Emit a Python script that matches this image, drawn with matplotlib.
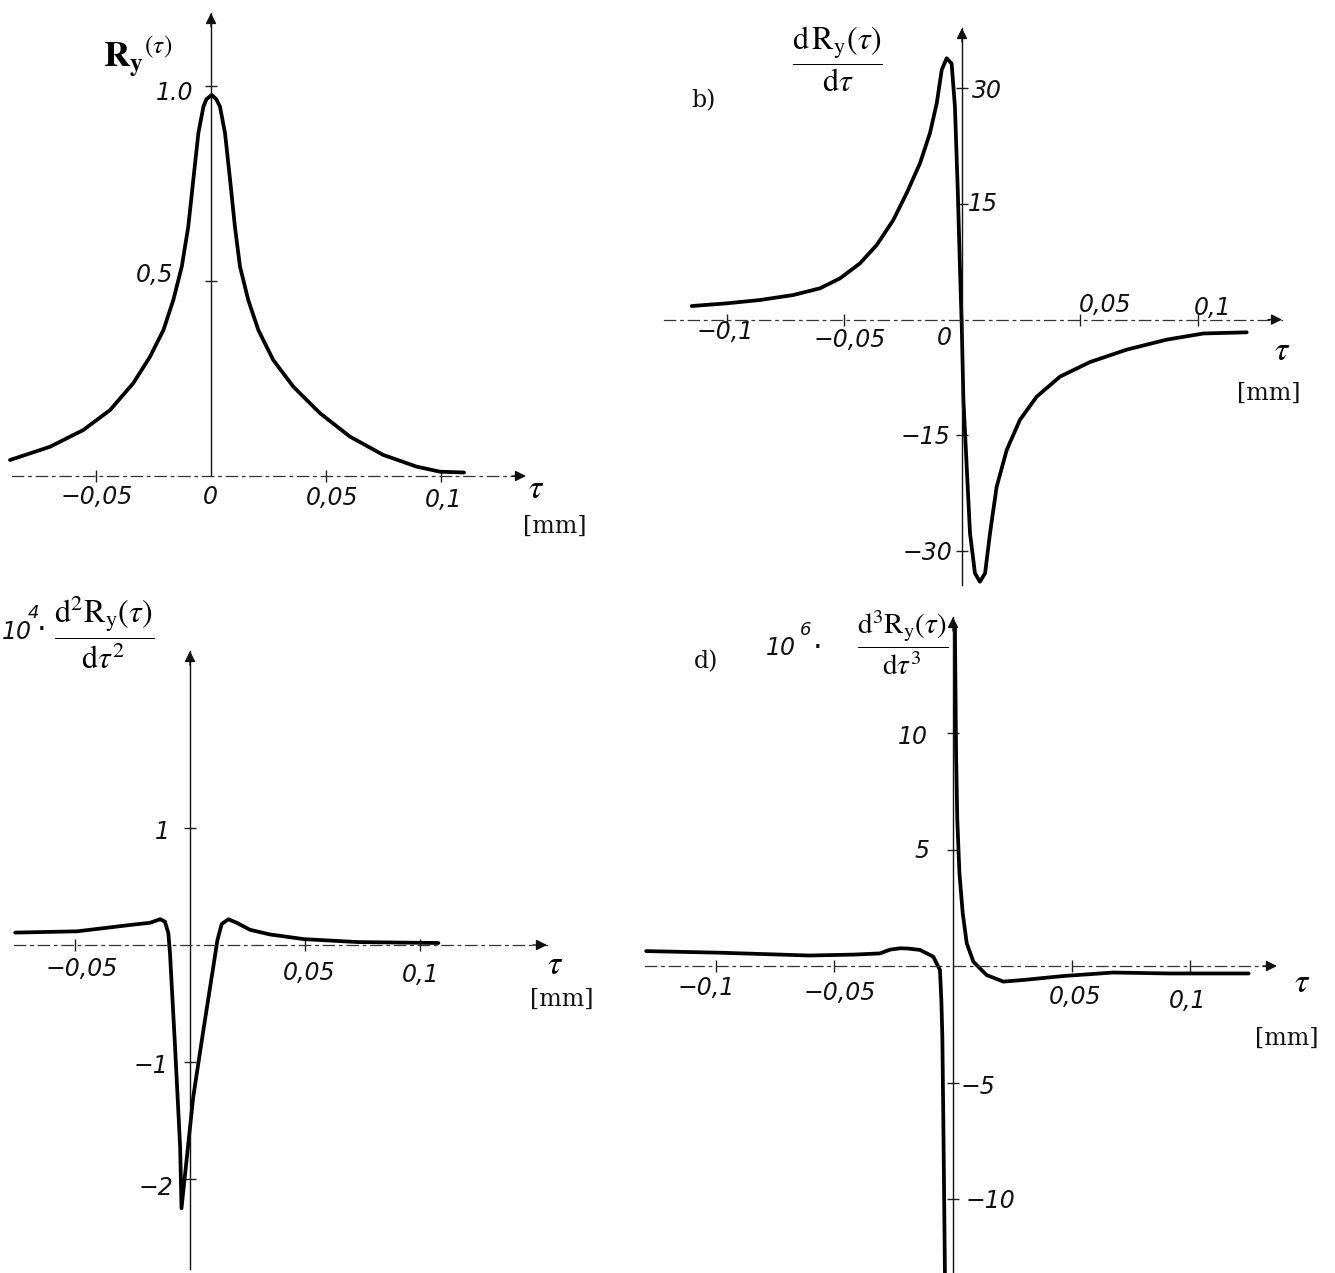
import matplotlib
matplotlib.use("Agg")
import matplotlib.pyplot as plt

plt.rcParams["mathtext.fontset"] = "stix"

# ---------------- data ----------------
# a) autocorrelation R_y(tau)
tau_a = [-0.0874, -0.070, -0.0555, -0.0439, -0.0338, -0.0265, -0.0207, -0.0164,
         -0.0127, -0.0099, -0.0077, -0.0055, -0.0033, -0.0020, 0.0003, 0.0023,
         0.0039, 0.0061, 0.0083, 0.0104, 0.0126, 0.0162, 0.0206, 0.0271, 0.0358,
         0.0474, 0.0604, 0.0749, 0.0894, 0.0996, 0.110]
R_a = [0.041, 0.075, 0.118, 0.169, 0.238, 0.306, 0.374, 0.451,
       0.537, 0.639, 0.759, 0.879, 0.947, 0.966, 0.977, 0.966,
       0.947, 0.879, 0.759, 0.639, 0.537, 0.451, 0.374, 0.297, 0.229,
       0.161, 0.101, 0.054, 0.024, 0.011, 0.009]

# b) first derivative dR_y/dtau
tau_b = [-0.1148, -0.0999, -0.0858, -0.0716, -0.0603, -0.0518, -0.0433, -0.0362,
         -0.0292, -0.0235, -0.0178, -0.0136, -0.0107, -0.0086, -0.0065, -0.0044,
         -0.003, -0.0018, -0.0008, -0.0001, 0.0006, 0.002, 0.0034, 0.0055, 0.0076,
         0.0098, 0.0119, 0.0147, 0.019, 0.0246, 0.0317, 0.0416, 0.0544, 0.0699,
         0.0869, 0.1025, 0.1209]
dR_b = [1.76, 2.11, 2.54, 3.19, 4.06, 5.35, 7.3, 9.68,
        12.9, 16.4, 20.3, 24.2, 28.1, 32.4, 33.9, 33.2,
        27.6, 16.8, 6.0, -0.9, -10.4, -19.1, -27.7, -32.9, -34.0,
        -32.9, -27.7, -21.7, -16.9, -13.0, -10.0, -7.4, -5.5, -3.9,
        -2.6, -1.8, -1.65]

# c) 10^4 * second derivative
tau_c = [-0.076, -0.049, -0.0261, -0.0174, -0.013, -0.0109, -0.0094, -0.0087,
         -0.0065, -0.0043, -0.0037, 0.0014, 0.0058, 0.0101, 0.0119, 0.0138,
         0.0167, 0.0203, 0.0261, 0.0348, 0.0496, 0.073, 0.108]
d2R_c = [0.106, 0.117, 0.171, 0.19, 0.22, 0.20, 0.10, -0.07,
         -0.87, -1.72, -2.25, -1.30, -0.73, -0.19, 0.04, 0.18,
         0.22, 0.19, 0.13, 0.09, 0.05, 0.025, 0.017]

# d) 10^6 * third derivative (left branch leaves the frame downward,
#    right branch enters from above)
tau_d_left = [-0.1293, -0.098, -0.0605, -0.0417, -0.0308, -0.0266, -0.0223, -0.019,
              -0.0139, -0.0083, -0.0055, -0.0049, -0.0045, -0.0041, -0.0034]
d3R_d_left = [0.64, 0.57, 0.45, 0.49, 0.54, 0.70, 0.76, 0.75,
              0.69, 0.40, -0.17, -1.5, -3.0, -6.4, -13.2]
tau_d_right = [0.0008, 0.0013, 0.0018, 0.0027, 0.0041, 0.0058, 0.0086, 0.0142,
               0.0212, 0.0296, 0.0465, 0.0676, 0.0906, 0.1246]
d3R_d_right = [14.6, 9.1, 6.3, 4.0, 2.26, 0.97, 0.18, -0.39,
               -0.67, -0.60, -0.43, -0.28, -0.32, -0.32]

# tick values and labels
xt_a = [-0.05, 0.0, 0.05, 0.1];            xl_a = ["\u22120,05", "0", "0,05", "0,1"]
yt_a = [0.5, 1.0];                          yl_a = ["0,5", "1.0"]
xt_b = [-0.1, -0.05, 0.0, 0.05, 0.1];       xl_b = ["\u22120,1", "\u22120,05", "0", "0,05", "0,1"]
yt_b = [30, 15, -15, -30];                  yl_b = ["30", "15", "\u221215", "\u221230"]
xt_c = [-0.05, 0.05, 0.1];                  xl_c = ["\u22120,05", "0,05", "0,1"]
yt_c = [1, -1, -2];                         yl_c = ["1", "\u22121", "\u22122"]
xt_d = [-0.1, -0.05, 0.05, 0.1];            xl_d = ["\u22120,1", "\u22120,05", "0,05", "0,1"]
yt_d = [10, 5, -5, -10];                    yl_d = ["10", "5", "\u22125", "\u221210"]

# ---------------- figure ----------------
W, H = 1335, 1273
fig = plt.figure(figsize=(W / 100, H / 100), dpi=100)
fig.patch.set_facecolor("white")

TICKFONT = dict(family="DejaVu Sans", style="oblique", fontsize=17, color="#111")
SUPFONT = dict(family="DejaVu Sans", style="oblique", fontsize=13, color="#111")
SERIF = dict(family="DejaVu Serif", fontsize=17, color="#111")


def panel(ox, oy, sx, sy, box, xspan, yspan):
    """ox, oy: pixel of the origin; sx, sy: pixels per data unit; box: l,t,r,b pixels"""
    l, t, r, b = box
    ax = fig.add_axes([l / W, 1 - b / H, (r - l) / W, (b - t) / H])
    ax.set_xlim((l - ox) / sx, (r - ox) / sx)
    ax.set_ylim((oy - b) / sy, (oy - t) / sy)
    ax.patch.set_visible(False)
    for s in ("top", "right"):
        ax.spines[s].set_visible(False)
    ax.spines["left"].set_position(("data", 0))
    ax.spines["bottom"].set_position(("data", 0))
    x0, x1 = [(p - ox) / sx for p in xspan]
    y0, y1 = [(oy - p) / sy for p in yspan]
    ax.spines["bottom"].set_bounds(x0, x1)
    ax.spines["left"].set_bounds(y0, y1)
    ax.spines["bottom"].set_linestyle((0, (9, 4, 2, 4)))
    ax.spines["bottom"].set_linewidth(0.9)
    ax.spines["bottom"].set_color("#333")
    ax.spines["left"].set_linewidth(1.0)
    ax.spines["left"].set_color("#111")
    ax.tick_params(direction="inout", length=9, width=1, colors="#222",
                   labelleft=False, labelbottom=False)
    ax.annotate("", xy=(x1, 0), xytext=(x1 - 14 / sx, 0),
                arrowprops=dict(arrowstyle="-|>", color="#111", lw=1, mutation_scale=16,
                                shrinkA=0, shrinkB=0))
    ax.annotate("", xy=(0, y1), xytext=(0, y1 - 14 / sy),
                arrowprops=dict(arrowstyle="-|>", color="#111", lw=1, mutation_scale=16,
                                shrinkA=0, shrinkB=0))
    return ax


def ticklabels(ax, xt, xl, xoff, yt, yl, yoff):
    ax.set_xticks([v for v in xt if v != 0])
    ax.set_yticks(yt)
    for v, s, (dx, dy) in zip(xt, xl, xoff):
        ax.annotate(s, xy=(v, 0), xytext=(dx, dy), textcoords="offset pixels",
                    ha="center", va="center", **TICKFONT)
    for v, s, (dx, dy) in zip(yt, yl, yoff):
        ax.annotate(s, xy=(0, v), xytext=(dx, dy), textcoords="offset pixels",
                    ha="center", va="center", **TICKFONT)


def ftext(x, y, s, **kw):
    fig.text(x / W, 1 - y / H, s, **kw)


LW = 2.7
CURVE = dict(color="black", lw=LW, solid_joinstyle="round", solid_capstyle="round")

# ---- a)
ax = panel(211, 476, 2300, 390, (0, 0, 545, 505), (12, 526), (476, 13))
ax.plot(tau_a, R_a, **CURVE)
ticklabels(ax, xt_a, xl_a, [(1, -21), (-1, -21), (6, -22), (3, -24)],
           yt_a, yl_a, [(-56, 6), (-36, -7)])
ftext(138, 57, r"$\mathbf{R}_{\mathbf{y}}{}^{(\tau)}$", ha="center", va="center", fontsize=26)
ftext(536, 489, r"$\tau$", ha="center", va="center", fontsize=24)
ftext(555, 526, "[mm]", ha="center", va="center", **SERIF)

# ---- b)
ax = panel(962, 319.6, 2355, 7.71, (650, 15, 1310, 600), (664, 1282), (585, 28))
ax.plot(tau_b, dR_b, **CURVE)
ticklabels(ax, xt_b, xl_b, [(-1, -12), (5, -20), (-18, -18), (25, 15), (15, 12)],
           yt_b, yl_b, [(25, -3), (21, 0), (-37, -2), (-35, -2)])
ftext(703, 101, "b)", ha="center", va="center", **SERIF)
ftext(837, 59, r"$\dfrac{\mathrm{d\,R_y}(\tau)}{\mathrm{d}\tau}$", ha="center", va="center",
      fontsize=23)
ftext(1282, 350, r"$\tau$", ha="center", va="center", fontsize=24)
ftext(1269, 393, "[mm]", ha="center", va="center", **SERIF)

# ---- c)
ax = panel(190, 945, 2300, 117, (0, 640, 570, 1273), (14, 547), (1269, 651))
ax.plot(tau_c, d2R_c, **CURVE)
ticklabels(ax, xt_c, xl_c, [(7, -24), (4, -28), (1, -30)],
           yt_c, yl_c, [(-28, -4), (-39, -4), (-34, -9)])
ftext(2, 632, "10", ha="left", va="center", **TICKFONT)
ftext(33, 613, "4", ha="center", va="center", **SUPFONT)
ftext(42, 631, "\u00b7", ha="center", va="center", fontsize=22, color="#111")
ftext(104, 632, r"$\dfrac{\mathrm{d^2R_y}(\tau)}{\mathrm{d}\tau^2}$",
      ha="center", va="center", fontsize=23)
ftext(555, 965, r"$\tau$", ha="center", va="center", fontsize=24)
ftext(562, 999, "[mm]", ha="center", va="center", **SERIF)

# ---- d)
ax = panel(953, 966, 2373, 23.3, (640, 610, 1320, 1273), (645, 1277), (1273, 617))
ax.plot(tau_d_left, d3R_d_left, **CURVE)
ax.plot(tau_d_right, d3R_d_right, **CURVE)
ticklabels(ax, xt_d, xl_d, [(-10, -22), (5, -27), (3, -31), (-3, -35)],
           yt_d, yl_d, [(-40, -4), (-31, -1), (25, -4), (37, -2)])
ftext(706, 662, "d)", ha="center", va="center", **SERIF)
ftext(781, 648, "10", ha="center", va="center", **TICKFONT)
ftext(806, 630, "6", ha="center", va="center", **SUPFONT)
ftext(818, 648, "\u00b7", ha="center", va="center", fontsize=22, color="#111")
ftext(903, 643, r"$\dfrac{\mathrm{d^3R_y}(\tau)}{\mathrm{d}\tau^3}$",
      ha="center", va="center", fontsize=21)
ftext(1302, 982, r"$\tau$", ha="center", va="center", fontsize=24)
ftext(1287, 1038, "[mm]", ha="center", va="center", **SERIF)

fig.savefig("out.png", dpi=100, facecolor="white")
